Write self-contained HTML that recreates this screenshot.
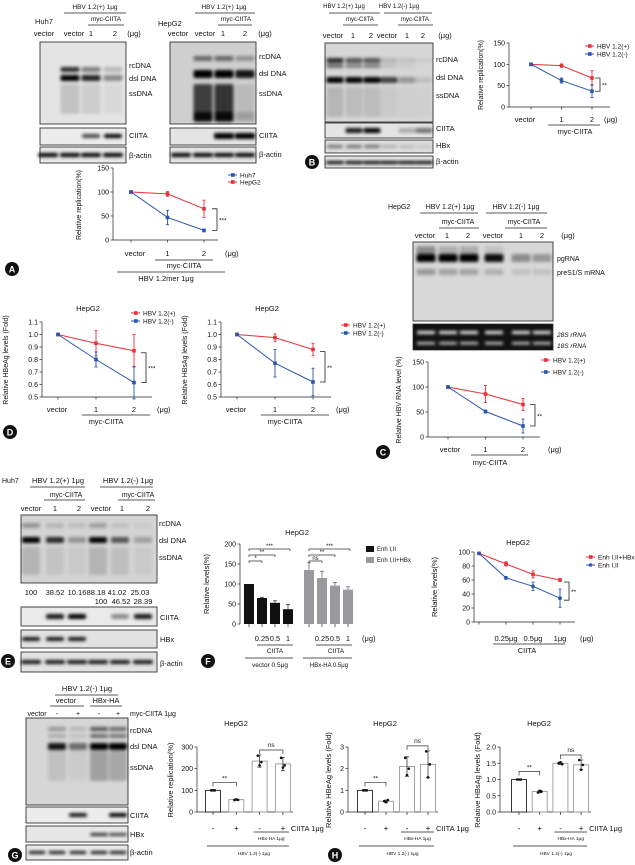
<!DOCTYPE html>
<html><head><meta charset="utf-8">
<style>
html,body{margin:0;padding:0;background:#fff;}
svg{display:block;font-family:"Liberation Sans",sans-serif;}
</style></head>
<body>
<svg id="fig" width="635" height="865" viewBox="0 0 635 865" xmlns="http://www.w3.org/2000/svg">
<defs>
<filter id="bl" x="-20%" y="-80%" width="140%" height="260%"><feGaussianBlur stdDeviation="1.6"/></filter>
<filter id="bl2" x="-20%" y="-50%" width="140%" height="200%"><feGaussianBlur stdDeviation="2.5"/></filter>
</defs>
</svg>
<script>
// ---------- data ----------
const A_cats = ["vector","1","2"];
const A_huh7 = [100,47,20];
const A_huh7Err = [0,15,3];
const A_hepg2 = [100,96,65];
const A_hepg2Err = [0,5,18];
const A_ticks = [0,50,100,150];

const B_cats = ["vector","1","2"];
const B_plus = [100,97,68];
const B_plusErr = [0,4,17];
const B_minus = [100,62,37];
const B_minusErr = [0,6,15];
const B_ticks = [0,50,100,150];

const D1_plus = [1.0,0.93,0.87];
const D1_plusErr = [0,0.10,0.13];
const D1_minus = [1.0,0.80,0.615];
const D1_minusErr = [0,0.06,0.13];
const D2_plus = [1.0,0.975,0.88];
const D2_plusErr = [0,0.03,0.05];
const D2_minus = [1.0,0.77,0.62];
const D2_minusErr = [0,0.11,0.11];
const D_ticks = [0.5,0.6,0.7,0.8,0.9,1.0,1.1];

const C_plus = [100,86,65];
const C_plusErr = [0,17,12];
const C_minus = [100,51,22];
const C_minusErr = [0,3,14];
const C_ticks = [0,50,100,150];

const F_barCats = ["","0.25","0.5","1"];
const F_black = [100,65,53,37];
const F_blackErr = [0,2,5,12];
const F_gray = [135,115,96,86];
const F_grayErr = [18,17,8,7];
const F_barTicks = [0,50,100,150,200];

const F_lineCats = ["","0.25μg","0.5μg","1μg"];
const F_red = [98,83,68,60];
const F_redErr = [0,3,5,2];
const F_blue = [98,63,51,34];
const F_blueErr = [0,2,6,13];
const F_lineTicks = [0,20,40,60,80,100];

const G_signs = ["-","+","-","+"];
const G_rep = [100,57,235,222];
const G_repErr = [0,3,28,30];
const G_repDots = [[100,100,100],[55,58,56],[260,215,230],[250,205,215]];
const G_ticks = [0,100,200,300];

const H1_vals = [1.0,0.5,2.1,2.2];
const H1_err = [0,0.05,0.45,0.62];
const H1_dots = [[1,1,1],[0.5,0.45,0.55],[2.5,1.7,2.0],[2.8,1.6,2.2]];
const H1_ticks = [0,1,2,3];

const H2_vals = [1.0,0.63,1.5,1.45];
const H2_err = [0,0.04,0.04,0.15];
const H2_dots = [[1,1,1],[0.6,0.65,0.63],[1.5,1.53,1.47],[1.6,1.3,1.45]];
const H2_ticks = [0.0,0.5,1.0,1.5,2.0];

// ---------- helpers ----------
const NS="http://www.w3.org/2000/svg";
const svg=document.getElementById('fig');
const RED="#e8323a", BLUE="#2a55b0";
function mk(tag,attrs,name,parent){
  const el=document.createElementNS(NS,tag);
  for(const k in attrs) el.setAttribute(k,attrs[k]);
  
  
  (parent||svg).appendChild(el);
  return el;
}
function T(x,y,s,name,size,anchor,extra){
  const a={x:x,y:y,'font-size':size||7,'text-anchor':anchor||'start',fill:'#111'};
  if(extra) Object.assign(a,extra);
  const el=mk('text',a,name);
  el.textContent=s;
  return el;
}
function L(x1,y1,x2,y2,name,col,w){
  return mk('line',{x1:x1,y1:y1,x2:x2,y2:y2,stroke:col||'#222','stroke-width':w||0.7},name);
}
function R(x,y,w,h,name,fill,stroke,sw){
  return mk('rect',{x:x,y:y,width:w,height:h,fill:fill||'none',stroke:stroke||'none','stroke-width':sw||0.8},name);
}
function scaleY(vmin,vmax,yb,yt){return v=>yb-(v-vmin)/(vmax-vmin)*(yb-yt);}
function circleLabel(x,y,s){
  mk('circle',{cx:x,cy:y,r:7,fill:'#111'},'panel-label-'+s.toLowerCase());
  T(x,y+3.3,s,'panel-letter-'+s.toLowerCase(),9,'middle',{fill:'#fff','font-weight':'bold'});
}
function blot(x,y,w,h,name,bg,lanes,bands,lw,blur){
  R(x,y,w,h,name,bg,'#333',0.9);
  const g=mk('g',{filter:blur?'url(#bl2)':'url(#bl)'},name+'-bands');
  bands.forEach((b,bi)=>{
    lanes.forEach((cx,i)=>{
      const v=b[2][i]; if(!v) return;
      mk('rect',{x:cx-lw/2,y:y+b[0],width:lw,height:b[1],rx:2,fill:b[3]||'#000','fill-opacity':v},name+'-band',g);
    });
  });
}
function yAxis(x,ticks,ys,name,fmt){
  L(x,ys(ticks[ticks.length-1]),x,ys(ticks[0]),name+'-y-axis');
  ticks.forEach(t=>{
    L(x-2.5,ys(t),x,ys(t),name+'-y-tick');
    T(x-4,ys(t)+2.5,fmt?fmt(t):String(t),name+'-y-tick-label',7,'end');
  });
}
function ylab(x,y,s,name,size){
  T(0,0,s,name,size||7,'middle',{transform:'translate('+x+','+y+') rotate(-90)'});
}
function series(xs,vals,errs,ys,col,name,marker){
  const pts=vals.map((v,i)=>xs(i)+','+ys(v)).join(' ');
  mk('polyline',{points:pts,fill:'none',stroke:col,'stroke-width':1},name+'-line');
  vals.forEach((v,i)=>{
    if(errs[i]){
      L(xs(i),ys(v-errs[i]),xs(i),ys(v+errs[i]),name+'-error-bar',col,0.9);
      L(xs(i)-1.5,ys(v+errs[i]),xs(i)+1.5,ys(v+errs[i]),name+'-error-cap',col,0.9);
      L(xs(i)-1.5,ys(v-errs[i]),xs(i)+1.5,ys(v-errs[i]),name+'-error-cap',col,0.9);
    }
    if(marker==='s') mk('rect',{x:xs(i)-1.8,y:ys(v)-1.8,width:3.6,height:3.6,fill:col},name+'-point');
    else mk('circle',{cx:xs(i),cy:ys(v),r:1.9,fill:col},name+'-point');
  });
}
function legend(x,y,s,col,name,marker){
  L(x,y,x+9,y,name+'-swatch-line',col,1);
  if(marker==='s') mk('rect',{x:x+3,y:y-1.8,width:3.6,height:3.6,fill:col},name+'-swatch');
  else mk('circle',{cx:x+4.5,cy:y,r:1.8,fill:col},name+'-swatch');
  T(x+12,y+2.4,s,name,6.5);
}
function bracket(x,y1,y2,label,name){
  mk('polyline',{points:(x-5)+','+y1+' '+x+','+y1+' '+x+','+y2+' '+(x-5)+','+y2,fill:'none',stroke:'#222','stroke-width':0.8},name);
  T(x+2,(y1+y2)/2+3,label,name+'-label',6.5);
}
function xAxisLine(x1,x2,y,xs,n,name){
  L(x1,y,x2,y,name+'-x-axis');
  for(let i=0;i<n;i++) L(xs(i),y,xs(i),y+2.5,name+'-x-tick');
}

// ================= Panel A =================
T(95,9,'HBV 1.2(+) 1μg','a-huh7-header',6.5,'middle'); L(64,13,126,13,'a-huh7-header-rule');
T(106,21,'myc-CIITA','a-huh7-myc',6.5,'middle'); L(88,25,124,25,'a-huh7-myc-rule');
T(35,24,'Huh7','a-huh7-cell',7.5);
[['vector',44],['vector',74],['1',91],['2',115],['(μg)',134]].forEach(p=>T(p[1],36,p[0],'a-huh7-lane-label',7.5,'middle'));
blot(40,42,86,82,'a-huh7-southern','#e4e4e4',[70,91,113],[[25,5,[0.8,0.45,0.2]],[33,6,[1,0.85,0.4]],[42,30,[0.15,0.1,0.05]]],19);
blot(40,128,86,17,'a-huh7-ciita','#ececec',[91,113],[[6,4,[0.7,1]]],18);
blot(40,147,86,16,'a-huh7-actin','#e8e8e8',[48,70,91,113],[[6,4,[1,1,1,1]]],20);
[['rcDNA',68],['dsl DNA',81],['ssDNA',96],['CIITA',138],['β-actin',158]].forEach(p=>T(129,p[1],p[0],'a-huh7-label',7.5));

T(224,9,'HBV 1.2(+) 1μg','a-hepg2-header',6.5,'middle'); L(195,13,255,13,'a-hepg2-header-rule');
T(236,21,'myc-CIITA','a-hepg2-myc',6.5,'middle'); L(218,25,252,25,'a-hepg2-myc-rule');
T(158,26,'HepG2','a-hepg2-cell',7.5);
[['vector',178],['vector',205],['1',223],['2',245],['(μg)',265]].forEach(p=>T(p[1],36,p[0],'a-hepg2-lane-label',7.5,'middle'));
blot(170,42,86,82,'a-hepg2-southern','#cfcfcf',[203,224,245],[[14,5,[0.5,0.5,0.3]],[28,8,[1,1,0.9]],[42,36,[0.7,0.75,0.1]],[70,10,[0.85,0.85,0.15]]],19);
blot(170,128,86,17,'a-hepg2-ciita','#e4e4e4',[224,245],[[5,6,[1,1]]],20);
blot(170,147,86,16,'a-hepg2-actin','#e4e4e4',[181,203,224,245],[[6,4,[1,1,1,1]]],20);
[['rcDNA',59],['dsl DNA',76],['ssDNA',96],['CIITA',138],['β-actin',157]].forEach(p=>T(259,p[1],p[0],'a-hepg2-label',7.5));

(function(){
  const ys=scaleY(0,150,240,168), xs=i=>131+i*36.5;
  yAxis(113,A_ticks,ys,'a-chart');
  xAxisLine(113,218,240,xs,3,'a-chart');
  ylab(81,205,'Relative replication(%)','a-chart-y-title',7);
  series(xs,A_hepg2,A_hepg2Err,ys,RED,'a-hepg2-series','s');
  series(xs,A_huh7,A_huh7Err,ys,BLUE,'a-huh7-series','s');
  bracket(217,ys(A_hepg2[2]),ys(A_huh7[2]),'***','a-significance');
  A_cats.forEach((c,i)=>T(xs(i)+(i?0:4),256,c,'a-x-label',7.5,'middle'));
  T(225,256,'(μg)','a-x-unit',7.5);
  L(155,260,213,260,'a-myc-rule'); T(184,268,'myc-CIITA','a-myc-label',7.5,'middle');
  L(117,272,225,272,'a-hbv-rule'); T(166,281,'HBV 1.2mer 1μg','a-hbv-label',7.5,'middle');
  legend(228,175,'Huh7',BLUE,'a-legend-huh7','s');
  legend(228,182,'HepG2',RED,'a-legend-hepg2','s');
})();
circleLabel(12,269,'A');

// ================= Panel B =================
T(344,8,'HBV 1.2(+) 1μg','b-plus-header',6,'middle'); L(329,13,380,13,'b-plus-rule');
T(399,8,'HBV 1.2(-) 1μg','b-minus-header',6,'middle'); L(384,13,432,13,'b-minus-rule');
T(360,21,'myc-CIITA','b-myc1',6,'middle'); L(343,25,378,25,'b-myc1-rule');
T(415,21,'myc-CIITA','b-myc2',6,'middle'); L(398,25,433,25,'b-myc2-rule');
[['vector',333],['1',353],['2',371],['vector',387],['1',407],['2',423],['(μg)',445]].forEach(p=>T(p[1],38,p[0],'b-lane-label',7.5,'middle'));
blot(325,43,108,79,'b-southern','#d6d6d6',[335,354,372,389,407,424],[[15,5,[0.8,0.6,0.6,0.15,0.1,0.05]],[21,4,[0.5,0.4,0.4,0.1,0.05,0]],[34,6,[1,1,1,0.7,0.3,0.1]],[44,30,[0.15,0.12,0.12,0.06,0.04,0.03]]],17);
blot(325,123,108,15,'b-ciita','#e4e4e4',[354,372,407,424],[[5,5,[0.9,1,0.25,0.5]]],17);
blot(325,140,108,13,'b-hbx','#dcdcdc',[335,354,372,389,407,424],[[5,3,[0.5,0.5,0.5,0.2,0.15,0.1]]],16);
blot(325,156,108,12,'b-actin','#e2e2e2',[335,354,372,389,407,424],[[5,3,[1,1,1,1,1,1]]],18);
[['rcDNA',62],['dsl DNA',80],['ssDNA',98],['CIITA',131],['HBx',148],['β-actin',164]].forEach(p=>T(436,p[1],p[0],'b-blot-label',7.5));
(function(){
  const ys=scaleY(0,150,107,43), xs=i=>531+i*30.5;
  yAxis(509,B_ticks,ys,'b-chart');
  xAxisLine(509,610,107,xs,3,'b-chart');
  ylab(483,75,'Relative replication(%)','b-chart-y-title',7);
  series(xs,B_plus,B_plusErr,ys,RED,'b-plus-series','s');
  series(xs,B_minus,B_minusErr,ys,BLUE,'b-minus-series','s');
  bracket(600,ys(B_plus[2]),ys(B_minus[2]),'**','b-significance');
  B_cats.forEach((c,i)=>T(xs(i)-(i?0:6),122,c,'b-x-label',7.5,'middle'));
  T(604,122,'(μg)','b-x-unit',7.5);
  L(548,125,600,125,'b-myc-rule'); T(575,134,'myc-CIITA','b-myc-label',7.5,'middle');
  legend(585,46,'HBV 1.2(+)',RED,'b-legend-plus','s');
  legend(585,54,'HBV 1.2(-)',BLUE,'b-legend-minus','s');
})();
circleLabel(312,162,'B');

// ================= Panel D =================
function dChart(x0,plus,pe,minus,me,pref,yt,legX,legY,sig){
  const ys=scaleY(0.5,1.1,397,322), xs=i=>x0+16+i*38;
  T(x0+46,311,'HepG2',pref+'-title',7.5,'middle');
  yAxis(x0,D_ticks,ys,pref,t=>t.toFixed(1));
  xAxisLine(x0,x0+110,397,xs,3,pref);
  ylab(x0-34,360,yt,pref+'-y-title',7);
  series(xs,plus,pe,ys,RED,pref+'-plus-series','s');
  series(xs,minus,me,ys,BLUE,pref+'-minus-series','s');
  bracket(x0+104,ys(plus[2])+2,ys(minus[2]),sig,pref+'-significance');
  ['vector','1','2'].forEach((c,i)=>T(xs(i)+(i?0:-1),412,c,pref+'-x-label',7.5,'middle'));
  T(x0+115,412,'(μg)',pref+'-x-unit',7.5);
  L(x0+40,415,x0+108,415,pref+'-myc-rule'); T(x0+64,424,'myc-CIITA',pref+'-myc-label',7.5,'middle');
  legend(legX,legY,'HBV 1.2(+)',RED,pref+'-legend-plus','s');
  legend(legX,legY+8,'HBV 1.2(-)',BLUE,pref+'-legend-minus','s');
}
dChart(42,D1_plus,D1_plusErr,D1_minus,D1_minusErr,'d-hbeag','Relative HBeAg levels (Fold)',131,313,'***');
dChart(221,D2_plus,D2_plusErr,D2_minus,D2_minusErr,'d-hbsag','Relative HBsAg levels (Fold)',341,325,'**');
circleLabel(10,432,'D');

// ================= Panel C =================
T(388,209,'HepG2','c-cell',7);
T(450,209,'HBV 1.2(+) 1μg','c-plus-header',7,'middle'); L(420,213,478,213,'c-plus-rule');
T(516,209,'HBV 1.2(-) 1μg','c-minus-header',7,'middle'); L(486,213,547,213,'c-minus-rule');
T(458,224,'myc-CIITA','c-myc1',7,'middle'); L(439,228,479,228,'c-myc1-rule');
T(524,224,'myc-CIITA','c-myc2',7,'middle'); L(505,228,547,228,'c-myc2-rule');
[['vector',425],['1',447],['2',468],['vector',493],['1',521],['2',542],['(μg)',568]].forEach(p=>T(p[1],238,p[0],'c-lane-label',7.5,'middle'));
blot(413,242,140,79,'c-northern','#d8d8d8',[426,448,469,494,521,542],[[12,8,[1,1,1,0.95,0.35,0.3]],[4,8,[0.35,0.2,0.2,0.1,0,0]],[27,6,[0.3,0.25,0.25,0.18,0.1,0.1]]],19);
R(413,324,140,26,'c-rrna-gel','#111','#333',0.8);
(function(){const g=mk('g',{filter:'url(#bl)'},'c-rrna-bands');
[426,448,469,494,521,542].forEach(cx=>{mk('rect',{x:cx-9,y:331,width:18,height:3,fill:'#eee'},'c-28s-band',g);mk('rect',{x:cx-9,y:342,width:18,height:2.5,fill:'#ccc'},'c-18s-band',g);});})();
T(557,261,'pgRNA','c-pgrna-label',7);
T(557,275,'preS1/S mRNA','c-pres-label',7);
T(557,337,'28S rRNA','c-28s-label',6.5,'start',{'font-style':'italic'});
T(557,348,'18S rRNA','c-18s-label',6.5,'start',{'font-style':'italic'});
(function(){
  const ys=scaleY(0,150,437,362), xs=i=>448+i*37.5;
  yAxis(428,C_ticks,ys,'c-chart');
  xAxisLine(428,540,437,xs,3,'c-chart');
  ylab(401,400,'Relative HBV RNA level (%)','c-chart-y-title',7);
  series(xs,C_plus,C_plusErr,ys,RED,'c-plus-series','s');
  series(xs,C_minus,C_minusErr,ys,BLUE,'c-minus-series','s');
  bracket(535,ys(C_plus[2]),ys(C_minus[2]),'**','c-significance');
  ['vector','1','2'].forEach((c,i)=>T(xs(i)+(i?0:2),452,c,'c-x-label',7.5,'middle'));
  T(548,452,'(μg)','c-x-unit',7.5);
  L(471,455,528,455,'c-myc-rule'); T(490,465,'myc-CIITA','c-myc-label',7.5,'middle');
  legend(541,360,'HBV 1.2(+)',RED,'c-legend-plus','s');
  legend(541,372,'HBV 1.2(-)',BLUE,'c-legend-minus','s');
})();
circleLabel(383,452,'C');

// ================= Panel E =================
T(2,483,'Huh7','e-cell',7);
T(58,483,'HBV 1.2(+) 1μg','e-plus-header',7.5,'middle'); L(30,487,85,487,'e-plus-rule');
T(128,483,'HBV 1.2(-) 1μg','e-minus-header',7.5,'middle'); L(100,487,153,487,'e-minus-rule');
T(66,497,'myc-CIITA','e-myc1',7,'middle'); L(44,500,85,500,'e-myc1-rule');
T(138,497,'myc-CIITA','e-myc2',7,'middle'); L(118,500,155,500,'e-myc2-rule');
[['vector',31],['1',55],['2',79],['vector',101],['1',122],['2',148]].forEach(p=>T(p[1],511,p[0],'e-lane-label',7.5,'middle'));
blot(21,515,136,68,'e-southern','#d4d4d4',[31,55,77,98,120,143],[[8,5,[0.3,0.15,0.1,0.25,0.1,0.05]],[22,6,[1,0.8,0.3,1,0.6,0.25]],[32,28,[0.15,0.08,0.05,0.15,0.1,0.05]]],18);
[['rcDNA',526],['dsl DNA',543],['ssDNA',560]].forEach(p=>T(159,p[1],p[0],'e-blot-label',7.5));
[['100',31],['38.52',55],['10.16',77],['88.18',96],['41.02',117],['25.03',140]].forEach(p=>T(p[1],595,p[0],'e-quant-row1',7.5,'middle'));
[['100',101],['46.52',121],['28.39',143]].forEach(p=>T(p[1],604,p[0],'e-quant-row2',7.5,'middle'));
blot(21,607,136,19,'e-ciita','#eaeaea',[55,77,120,143],[[7,5,[0.9,1,0.4,0.9]]],18);
blot(21,630,136,18,'e-hbx','#e2e2e2',[31,55,77],[[7,4,[0.9,0.9,0.9]]],18);
blot(21,652,136,20,'e-actin','#e2e2e2',[31,55,77,98,120,143],[[8,4,[0.9,0.9,0.9,0.9,0.9,0.9]]],20);
[['CIITA',620],['HBx',642],['β-actin',666]].forEach(p=>T(160,p[1],p[0],'e-blot-label',7.5));
circleLabel(8,661,'E');

// ================= Panel F bars =================
(function(){
  const ys=scaleY(0,200,624,544), bx=i=>249+i*13, gx=i=>309+i*13;
  T(297,535,'HepG2','f-bar-title',7.5,'middle');
  yAxis(240,F_barTicks,ys,'f-bar');
  ylab(209,584,'Relative levels(%)','f-bar-y-title',7.5);
  F_black.forEach((v,i)=>{
    R(bx(i)-5,ys(v),10,ys(0)-ys(v),'f-bar-enh','#111');
    if(F_blackErr[i]){L(bx(i),ys(v),bx(i),ys(v+F_blackErr[i]),'f-bar-enh-error');L(bx(i)-2,ys(v+F_blackErr[i]),bx(i)+2,ys(v+F_blackErr[i]),'f-bar-enh-cap');}
    L(bx(i),624,bx(i),627,'f-bar-tick');
  });
  F_gray.forEach((v,i)=>{
    R(gx(i)-5,ys(v),10,ys(0)-ys(v),'f-bar-enh-hbx','#9a9a9e');
    L(gx(i),ys(v),gx(i),ys(v+F_grayErr[i]),'f-bar-hbx-error','#555');L(gx(i)-2,ys(v+F_grayErr[i]),gx(i)+2,ys(v+F_grayErr[i]),'f-bar-hbx-cap','#555');
    L(gx(i),624,gx(i),627,'f-bar-tick');
  });
  F_barCats.forEach((c,i)=>{T(bx(i),641,c,'f-bar-x-label',7.5,'middle');T(gx(i),641,c,'f-bar-x-label',7.5,'middle');});
  T(362,641,'(μg)','f-bar-unit',7.5);
  L(257,645,293,645,'f-ciita-rule1'); T(275,653,'CIITA','f-ciita-label1',6.5,'middle');
  L(316,645,352,645,'f-ciita-rule2'); T(336,653,'CIITA','f-ciita-label2',6.5,'middle');
  L(245,658,293,658,'f-vector-rule'); T(270,667,'vector 0.5μg','f-vector-label',6.5,'middle');
  L(303,658,352,658,'f-hbx-rule'); T(329,667,'HBx-HA 0.5μg','f-hbx-label',6,'middle');
  [[bx(0),bx(1),561,'*'],[bx(0),bx(2),555,'**'],[bx(0),bx(3)+2,549,'***'],[gx(0),gx(1),561,'ns'],[gx(0),gx(2),555,'**'],[gx(0),gx(3)+2,549,'***']].forEach(b=>{
    mk('polyline',{points:b[0]+','+(b[2]+2)+' '+b[0]+','+b[2]+' '+b[1]+','+b[2]+' '+b[1]+','+(b[2]+2),fill:'none',stroke:'#333','stroke-width':0.7},'f-sig-bracket');
    T((b[0]+b[1])/2,b[2]-1,b[3],'f-sig-label',6,'middle');
  });
  R(366,546,8,6,'f-legend-enh-swatch','#111'); T(377,551,'Enh I,II','f-legend-enh',6);
  R(366,557,8,6,'f-legend-hbx-swatch','#9a9a9e'); T(377,562,'Enh I,II+HBx','f-legend-hbx',6);
})();
circleLabel(208,661,'F');

// ================= Panel F line =================
(function(){
  const ys=scaleY(0,100,622,552), xs=i=>479+i*27;
  T(518,545,'HepG2','f-line-title',7.5,'middle');
  yAxis(474,F_lineTicks,ys,'f-line');
  xAxisLine(474,575,622,xs,4,'f-line');
  ylab(437,587,'Relative levels(%)','f-line-y-title',7.5);
  series(xs,F_red,F_redErr,ys,RED,'f-line-hbx-series','s');
  series(xs,F_blue,F_blueErr,ys,BLUE,'f-line-enh-series','c');
  bracket(569,ys(F_red[3])+2,ys(F_blue[3])+2,'**','f-line-significance');
  F_lineCats.forEach((c,i)=>{if(c)T(xs(i),641,c,'f-line-x-label',7.5,'middle');});
  T(580,641,'(μg)','f-line-unit',7.5);
  L(493,644,565,644,'f-line-ciita-rule'); T(527,653,'CIITA','f-line-ciita-label',7.5,'middle');
  legend(586,557,'Enh I,II+HBx',RED,'f-line-legend-hbx','s');
  legend(586,565,'Enh I,II',BLUE,'f-line-legend-enh','c');
})();

// ================= Panel G =================
T(87,691,'HBV 1.2(-) 1μg','g-header',7.5,'middle'); L(55,695,118,695,'g-header-rule');
T(66,703,'vector','g-vector-label',7.5,'middle'); L(50,706,84,706,'g-vector-rule');
T(106,703,'HBx-HA','g-hbx-label',7.5,'middle'); L(90,706,122,706,'g-hbx-rule');
[['vector',37],['-',57],['+',78],['-',99],['+',118]].forEach(p=>T(p[1],716,p[0],'g-lane-label',7,'middle'));
T(130,716,'myc-CIITA 1μg','g-myc-label',7);
blot(26,718,102,87,'g-southern','#d6d6d6',[57,78,99,118],[[9,4,[0.3,0.15,0.6,0.5]],[16,4,[0.2,0.1,0.5,0.45]],[25,7,[0.9,0.5,1,1]],[33,30,[0.1,0.05,0.25,0.22]]],18);
blot(26,807,102,16,'g-ciita','#ececec',[78,118],[[6,4,[0.9,1]]],18);
blot(26,826,102,16,'g-hbx','#e6e6e6',[99,118],[[7,3,[0.8,0.7]]],18);
blot(26,845,102,15,'g-actin','#e8e8e8',[37,57,78,99,118],[[6,3,[0.9,0.9,0.9,0.9,0.9]]],17);
[['rcDNA',733],['dsl DNA',749],['ssDNA',770],['CIITA',818],['HBx',837],['β-actin',855]].forEach(p=>T(130,p[1],p[0],'g-blot-label',7.5));
circleLabel(15,855,'G');

// ================= Bar charts G/H =================
function dotBar(x0,bxs,vals,errs,dots,ticks,ys,pref,title,titleX,ytitle,ytX,fmt){
  T(titleX,726,title,pref+'-title',7.5,'middle');
  yAxis(x0,ticks,ys,pref,fmt);
  L(x0,812,bxs(3)+10,812,pref+'-x-axis');
  ylab(ytX,780,ytitle,pref+'-y-title',7.5);
  vals.forEach((v,i)=>{
    R(bxs(i)-7.5,ys(v),15,812-ys(v),pref+'-bar',"#fff",i===0?'#222':'#999',0.9);
    L(bxs(i),ys(v-errs[i]),bxs(i),ys(v+errs[i]),pref+'-error-bar');
    L(bxs(i)-2,ys(v+errs[i]),bxs(i)+2,ys(v+errs[i]),pref+'-error-cap');
    L(bxs(i)-2,ys(v-errs[i]),bxs(i)+2,ys(v-errs[i]),pref+'-error-cap');
    dots[i].forEach((d,j)=>mk('circle',{cx:bxs(i)+(j-1)*1.8,cy:ys(d),r:1.3,fill:'#111'},pref+'-dot'));
    L(bxs(i),812,bxs(i),815,pref+'-x-tick');
    T(bxs(i),831,G_signs[i],pref+'-x-label',8,'middle');
  });
  T(bxs(3)+8,831,'CIITA 1μg',pref+'-ciita-label',7.5);
  const y1=ys(Math.max(vals[0],vals[1]))-8, y2=ys(Math.max(vals[2]+errs[2],vals[3]+errs[3]))-5;
  mk('polyline',{points:bxs(0)+','+(y1+4)+' '+bxs(0)+','+y1+' '+bxs(1)+','+y1+' '+bxs(1)+','+(y1+4),fill:'none',stroke:'#333','stroke-width':0.7},pref+'-sig-bracket');
  T((bxs(0)+bxs(1))/2,y1-2,'**',pref+'-sig-label',6.5,'middle');
  mk('polyline',{points:bxs(2)+','+(y2+4)+' '+bxs(2)+','+y2+' '+bxs(3)+','+y2+' '+bxs(3)+','+(y2+4),fill:'none',stroke:'#333','stroke-width':0.7},pref+'-sig-bracket');
  T((bxs(2)+bxs(3))/2,y2-3,'ns',pref+'-sig-label',6.5,'middle');
  L(bxs(2)-6,832,bxs(3)+6,832,pref+'-hbx-rule'); T((bxs(2)+bxs(3))/2,840,'HBx-HA 1μg',pref+'-hbx-label',4.8,'middle');
  L(bxs(0)-6,846,bxs(3)+6,846,pref+'-hbv-rule'); T((bxs(0)+bxs(3))/2+6,855,'HBV 1.2(-) 1μg',pref+'-hbv-label',4.8,'middle');
}
dotBar(197,i=>213+i*23.3,G_rep,G_repErr,G_repDots,G_ticks,scaleY(0,300,812,747),'g-rep','HepG2',236,'Relative replication(%)',173);
dotBar(348,i=>365+i*21,H1_vals,H1_err,H1_dots,H1_ticks,scaleY(0,3,812,747),'h-hbeag','HepG2',385,'Relative HBeAg levels (Fold)',331);
dotBar(500,i=>519+i*20.7,H2_vals,H2_err,H2_dots,H2_ticks,scaleY(0,2,812,747),'h-hbsag','HepG2',539,'Relative HBsAg levels (Fold)',480,t=>t.toFixed(1));
circleLabel(335,855,'H');
</script>
</body></html>
